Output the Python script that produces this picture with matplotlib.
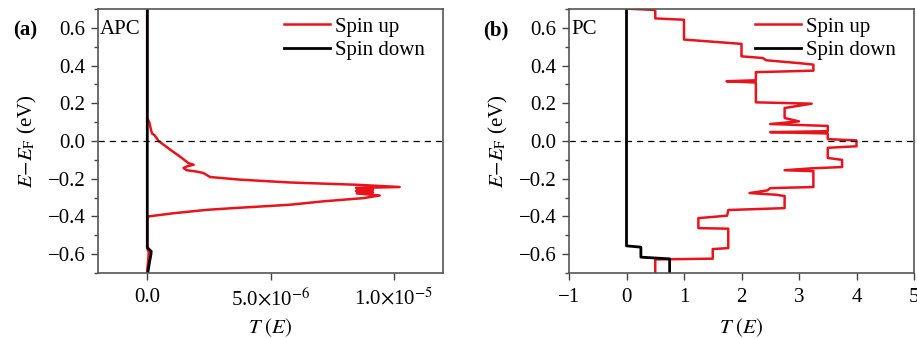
import numpy as np
import matplotlib
matplotlib.use("Agg")
import matplotlib.pyplot as plt
from matplotlib.ticker import MultipleLocator

plt.rcParams['font.family'] = ['Liberation Serif', 'DejaVu Serif']
plt.rcParams['mathtext.fontset'] = 'stix'
plt.rcParams['font.size'] = 15

# ---- panel (a): APC, T in units of 1e-6 ----
E_a_up = [0.70, 0.12, 0.10, 0.06, 0.04, 0.03, 0.0, -0.046, -0.08, -0.117, -0.126,
          -0.135, -0.143, -0.155, -0.162, -0.17, -0.191, -0.205, -0.22, -0.232,
          -0.244, -0.249, -0.259, -0.265, -0.272, -0.278, -0.289, -0.303, -0.32,
          -0.338, -0.356, -0.365, -0.383, -0.40, -0.41, -0.57, -0.59, -0.63, -0.68, -0.70]
T_a_up = [0.0, 0.0, 0.08, 0.15, 0.19, 0.30, 0.46, 0.93, 1.3, 1.67, 1.88,
          1.6, 1.47, 1.6, 2.0, 2.28, 2.55, 3.77, 5.79, 8.49,
          10.24, 8.47, 9.16, 8.47, 9.16, 8.5, 9.43, 8.76, 7.14,
          5.79, 3.49, 2.42, 1.07, 0.05, 0.0, 0.0, 0.06, 0.04, 0.0, 0.0]
E_a_dn = [0.70, -0.565, -0.585, -0.60, -0.65, -0.70]
T_a_dn = [0.0, 0.0, 0.16, 0.15, 0.08, 0.02]

# ---- panel (b): PC ----
E_b_up = [0.702, 0.695, 0.69, 0.65, 0.643, 0.538, 0.515, 0.449, 0.44, 0.428, 0.413,
          0.405, 0.373, 0.365, 0.322, 0.317, 0.31, 0.205, 0.198, 0.175, 0.122,
          0.104, 0.090, 0.080, 0.052, 0.047, 0.040, 0.010, 0.003, -0.028, -0.036,
          -0.09, -0.10, -0.138, -0.145, -0.155, -0.16, -0.244, -0.25, -0.262,
          -0.276, -0.285, -0.292, -0.356, -0.366, -0.396, -0.409, -0.462, -0.465,
          -0.568, -0.573, -0.624, -0.628, -0.70]
T_b_up = [0.0, 0.48, 0.5, 0.5, 1.0, 1.0, 2.0, 2.0, 2.37, 2.43, 3.0,
          3.25, 3.25, 2.25, 2.25, 1.74, 2.25, 2.25, 3.22, 2.75, 2.75,
          3.0, 2.5, 3.5, 3.5, 2.5, 3.5, 3.5, 4.0, 4.0, 3.5,
          3.5, 3.75, 3.75, 3.22, 2.75, 3.25, 3.25, 2.5, 2.45,
          2.14, 2.6, 2.75, 2.75, 1.77, 1.75, 1.25, 1.25, 1.77,
          1.77, 1.5, 1.5, 0.5, 0.5]
E_b_dn = [0.70, -0.556, -0.563, -0.616, -0.625, -0.70]
T_b_dn = [0.0, 0.0, 0.25, 0.25, 0.75, 0.75]

red = '#e8141c'
fig = plt.figure(figsize=(9.17, 3.39), dpi=100)
ax1 = fig.add_axes([98/917, 66/339, 345/917, 264/339])
ax2 = fig.add_axes([569/917, 66/339, 345/917, 264/339])

ax1.plot(np.array(T_a_up)*1e-6, E_a_up, color=red, lw=1.8, label='Spin up')
ax1.plot(np.array(T_a_dn)*1e-6, E_a_dn, color='black', lw=2.0, label='Spin down')
ax2.plot(T_b_up, E_b_up, color=red, lw=1.8, label='Spin up')
ax2.plot(T_b_dn, E_b_dn, color='black', lw=2.0, label='Spin down')

ax1.set_xlim(-2e-6, 1.2e-5)
ax1.set_xticks([0, 5e-6, 1e-5])
ax1.set_xticklabels(['0.0', r'5.0$\times$10$^{-6}$', r'1.0$\times$10$^{-5}$'])
ax2.set_xlim(-1, 5)
ax2.set_xticks(range(-1, 6))

for ax, name in [(ax1, 'APC'), (ax2, 'PC')]:
    ax.set_ylim(-0.7, 0.7)
    ax.set_yticks([-0.6, -0.4, -0.2, 0.0, 0.2, 0.4, 0.6])
    ax.yaxis.set_minor_locator(MultipleLocator(0.1))
    ax.axhline(0, color='black', lw=0.9, ls=(0, (5, 4)))
    ax.tick_params(which='major', direction='out', length=5, width=1, color='#444')
    ax.tick_params(which='minor', direction='out', length=3, width=1, color='#444')
    ax.tick_params(axis='x', pad=5.5)
    ax.tick_params(axis='y', pad=4)
    for s in ax.spines.values():
        s.set_color('#555')
        s.set_linewidth(1.2)
    ax.set_ylabel(r'$E{-}E_{\mathrm{F}}$ (eV)')
    ax.set_xlabel(r'$T$ $(E)$')
    ax.yaxis.set_label_coords(-0.17, 0.5)
    ax.xaxis.set_label_coords(0.5, -0.165)
    ax.text(0.006, 0.96, name, transform=ax.transAxes, ha='left', va='top')
    ax.legend(loc='upper right', bbox_to_anchor=(0.948, 0.97), frameon=False,
              handlelength=2.2, handletextpad=0.25, labelspacing=0.2,
              borderaxespad=0, borderpad=0)

fig.text(25/917, 1 - 30/339, '(a)', fontweight='bold', ha='center', va='center')
fig.text(496/917, 1 - 30/339, '(b)', fontweight='bold', ha='center', va='center')

fig.savefig('out.png', dpi=100)
